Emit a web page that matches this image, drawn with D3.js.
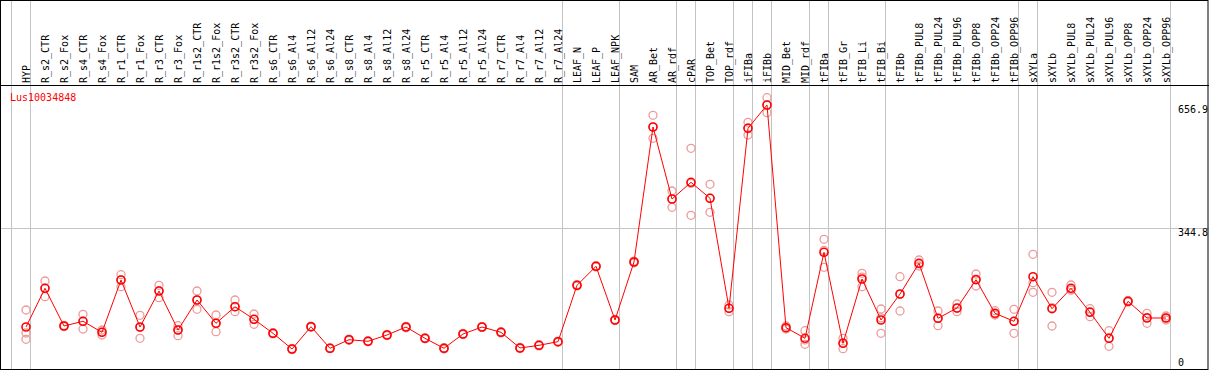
<!DOCTYPE html>
<html>
<head>
<meta charset="utf-8">
<script src="https://cdn.jsdelivr.net/npm/d3@7"></script>
<style>
  body { margin: 0; background: #fff; }
  svg { display: block; }
  text { font-family: "DejaVu Sans Mono", monospace; font-size: 10px; }
</style>
</head>
<body>
<div id="chart"></div>
<script>
'use strict';

const geneName = 'Lus10034848';

const categories = ['HYP','R_s2_CTR','R_s2_Fox','R_s4_CTR','R_s4_Fox','R_r1_CTR','R_r1_Fox','R_r3_CTR','R_r3_Fox',
  'R_r1s2_CTR','R_r1s2_Fox','R_r3s2_CTR','R_r3s2_Fox','R_s6_CTR','R_s6_Al4','R_s6_Al12','R_s6_Al24',
  'R_s8_CTR','R_s8_Al4','R_s8_Al12','R_s8_Al24','R_r5_CTR','R_r5_Al4','R_r5_Al12','R_r5_Al24',
  'R_r7_CTR','R_r7_Al4','R_r7_Al12','R_r7_Al24','LEAF_N','LEAF_P','LEAF_NPK','SAM','AR_Bet','AR_rdf',
  'cPAR','TOP_Bet','TOP_rdf','iFIBa','iFIBb','MID_Bet','MID_rdf','tFIBa','tFIB_Gr','tFIB_Li','tFIB_Bi',
  'tFIBb','tFIBb_PUL8','tFIBb_PUL24','tFIBb_PUL96','tFIBb_OPP8','tFIBb_OPP24','tFIBb_OPP96',
  'sXYLa','sXYLb','sXYLb_PUL8','sXYLb_PUL24','sXYLb_PUL96','sXYLb_OPP8','sXYLb_OPP24','sXYLb_OPP96']

// mean expression per sample
const means = [93.8,192.0,96.4,108.3,80.4,213.0,93.8,185.1,86.2,162.3,103.2,145.3,113.4,77.9,38.0,94.6,
  39.8,61.6,57.6,73.6,93.8,65.2,39.8,76.1,93.8,80.4,40.6,47.4,56.6,199.6,247.8,111.6,258.7,601.1,418.5,
  460.8,420.3,141.3,597.8,656.9,92.1,65.2,283.3,52.5,215.6,111.6,177.5,255.4,115.9,142.0,213.8,128.6,
  108.3,221.4,140.3,192.0,131.1,65.2,159.0,116.7,116.7]

// replicates
const rep1 = [137.0,210.5,98.0,126.0,86.2,226.5,123.5,199.6,97.1,185.1,124.3,162.3,126.8,79.5,39.5,96.0,
  41.0,63.0,59.0,75.0,95.5,66.5,41.5,77.5,95.0,82.0,42.0,49.0,58.0,201.5,249.5,113.0,261.0,630.8,438.8,
  547.1,455.8,149.6,613.0,675.4,96.4,84.5,316.3,65.2,230.0,139.5,221.4,263.8,134.4,152.2,228.3,135.2,
  138.7,278.2,181.8,200.4,140.3,84.5,161.0,128.6,121.7]
const rep2 = [78.6,192.5,96.0,108.5,81.0,213.5,93.0,186.0,86.5,162.0,103.0,145.0,113.0,78.0,38.0,94.5,
  39.5,61.5,57.5,73.5,94.0,65.0,40.0,76.0,93.5,80.5,40.5,47.5,56.5,199.5,248.0,111.5,258.5,601.0,418.0,
  458.0,420.5,141.5,599.0,657.0,91.5,61.0,288.0,53.5,220.5,117.0,176.8,254.0,116.0,141.2,215.3,126.3,
  108.3,206.2,142.7,187.9,133.0,66.2,157.0,118.3,116.7]
const rep3 = [62.6,170.7,95.0,88.8,73.6,196.0,65.2,168.2,71.8,138.7,81.9,132.6,100.7,76.3,36.5,93.2,
  38.8,60.2,56.3,72.2,92.0,64.0,38.0,74.8,92.8,78.8,39.3,45.8,55.2,197.8,246.0,110.3,256.6,572.4,397.4,
  377.1,384.7,132.6,580.8,637.4,88.8,50.0,245.3,38.8,196.0,77.9,134.4,248.6,97.1,132.6,197.8,124.3,
  77.9,181.8,96.4,187.7,120.0,44.9,159.0,103.2,111.6]

// separators drawn after these samples (null = before the first)
const groupEnds = [null,'HYP','R_r7_Al24','LEAF_NPK','AR_rdf','cPAR','TOP_rdf','iFIBa','iFIBb',
  'MID_rdf','tFIBa','tFIB_Bi','tFIBb_OPP96','sXYLa','sXYLb_OPP96']

const yTicks = [0, 344.8, 656.9]
const gridTicks = [344.8]

const W = 1209, H = 370
const headerBottom = 85.5

const svg = d3.select('#chart').append('svg')
  .attr('width', W)
  .attr('height', H)

const x = d3.scalePoint()
  .domain(categories)
  .range([26, 1166])

const y = d3.scaleLinear()
  .domain([0, 656.9])
  .range([364, 105])

const step = x.step()
const sepX = (c) => c === null ? x(categories[0]) - step + 4.5 : x(c) + 4.5

// vertical separators (full height)
svg.append('g')
  .attr('stroke', '#c4c4c4')
  .attr('stroke-width', 1)
  .selectAll('line')
  .data(groupEnds)
  .join('line')
  .attr('x1', d => Math.round(sepX(d)) - 0.5)
  .attr('x2', d => Math.round(sepX(d)) - 0.5)
  .attr('y1', 0)
  .attr('y2', H)

// horizontal grid line
svg.append('g')
  .attr('stroke', '#c4c4c4')
  .selectAll('line')
  .data(gridTicks)
  .join('line')
  .attr('x1', 0)
  .attr('x2', W)
  .attr('y1', d => Math.round(y(d)) + 0.5)
  .attr('y2', d => Math.round(y(d)) + 0.5)

// header line
svg.append('line')
  .attr('x1', 0).attr('x2', W)
  .attr('y1', headerBottom).attr('y2', headerBottom)
  .attr('stroke', '#000')

// category labels
svg.append('g')
  .selectAll('text')
  .data(categories)
  .join('text')
  .attr('transform', d => `translate(${x(d) + 4},83) rotate(-90)`)
  .attr('fill', '#000')
  .text(d => d)

// title
svg.append('text')
  .attr('x', 10)
  .attr('y', 101)
  .attr('fill', '#ff0000')
  .text(geneName)

// right axis labels
svg.append('g')
  .selectAll('text')
  .data(yTicks)
  .join('text')
  .attr('x', 1178)
  .attr('y', d => Math.min(y(d) + 8, 366))
  .attr('fill', '#000')
  .text(d => d)

// replicate circles
const reps = []
categories.forEach((c, i) => {
  reps.push({c: c, v: rep1[i]}, {c: c, v: rep2[i]}, {c: c, v: rep3[i]})
})
svg.append('g')
  .attr('fill', 'none')
  .attr('stroke', '#ee9a9a')
  .attr('stroke-width', 1.3)
  .selectAll('circle')
  .data(reps)
  .join('circle')
  .attr('cx', d => x(d.c))
  .attr('cy', d => y(d.v))
  .attr('r', 4)

// mean line
const line = d3.line()
  .x((d, i) => x(categories[i]))
  .y(d => y(d))
svg.append('path')
  .datum(means)
  .attr('fill', 'none')
  .attr('stroke', '#ff0000')
  .attr('stroke-width', 1)
  .attr('d', line)

// mean circles
svg.append('g')
  .attr('fill', 'none')
  .attr('stroke', '#ff0000')
  .attr('stroke-width', 1.6)
  .selectAll('circle')
  .data(means)
  .join('circle')
  .attr('cx', (d, i) => x(categories[i]))
  .attr('cy', d => y(d))
  .attr('r', 4)

// frame
svg.append('rect')
  .attr('x', 0.5).attr('y', 0.5)
  .attr('width', W - 1.5).attr('height', H - 1)
  .attr('fill', 'none')
  .attr('stroke', '#000')
</script>
</body>
</html>
